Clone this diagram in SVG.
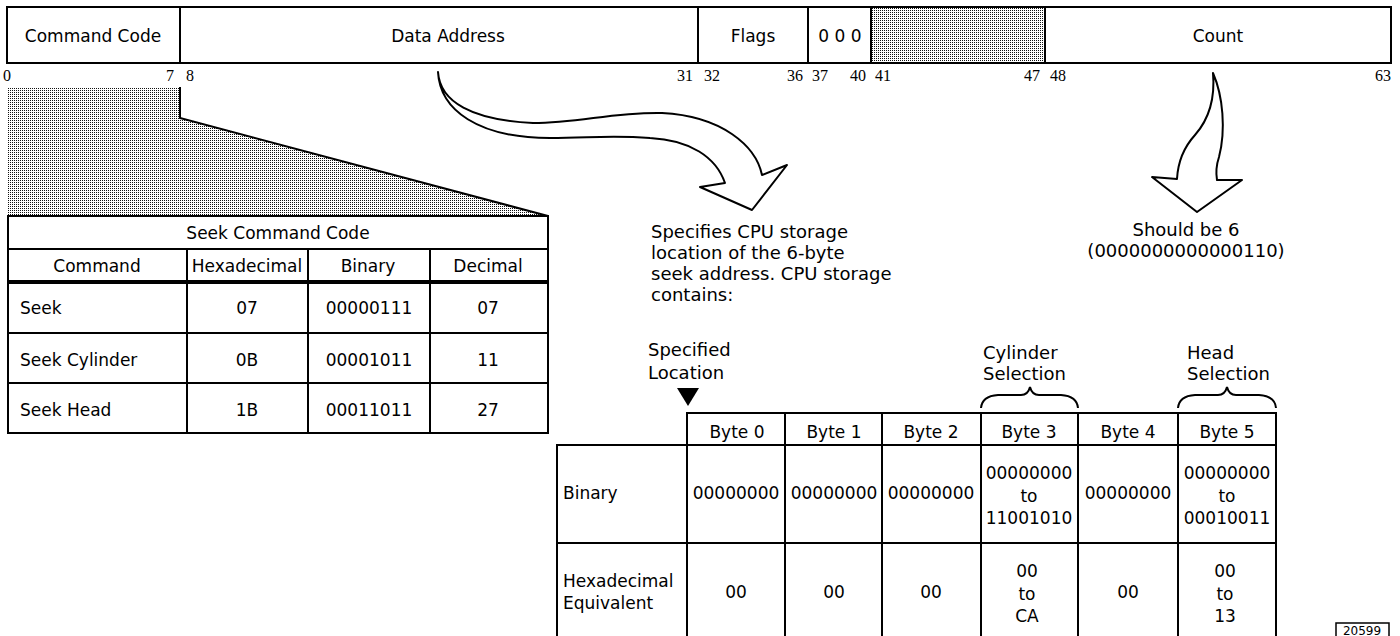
<svg xmlns="http://www.w3.org/2000/svg" width="1400" height="636" viewBox="0 0 1400 636">
<defs>
<pattern id="dots" width="2" height="2" patternUnits="userSpaceOnUse">
<rect width="2" height="2" fill="#fff"/>
<rect x="0" y="0" width="1" height="1" fill="#111"/>
</pattern>
</defs>
<style>
text{font-family:"DejaVu Sans","Liberation Sans",sans-serif;font-size:17px;fill:#000}
.c{text-anchor:middle}
.r{text-anchor:end}
.note{font-size:18px}
.bit{font-family:"Liberation Serif","DejaVu Serif",serif;font-size:16px}
.box{fill:#fff;stroke:#000;stroke-width:2}
.ln{stroke:#000;stroke-width:2;fill:none}
.thick{stroke:#000;stroke-width:4;fill:none}
.arrow{fill:#fff;stroke:#000;stroke-width:2;stroke-linejoin:round}
.small{font-size:12px}
</style>
<rect width="1400" height="636" fill="#fff"/>

<!-- top word format -->
<g id="field-command-code">
<rect class="box" x="7" y="7" width="173" height="56"/>
<text class="c" x="93" y="42">Command Code</text>
</g>
<g id="field-data-address">
<rect class="box" x="180" y="7" width="518" height="56"/>
<text class="c" x="448" y="42">Data Address</text>
</g>
<g id="field-flags">
<rect class="box" x="698" y="7" width="110" height="56"/>
<text class="c" x="753" y="42">Flags</text>
</g>
<g id="field-zero">
<rect class="box" x="808" y="7" width="63" height="56"/>
<text class="c" x="840" y="42">0 0 0</text>
</g>
<g id="field-unused">
<rect x="871" y="7" width="174" height="56" fill="url(#dots)" stroke="#000" stroke-width="2"/>
</g>
<g id="field-count">
<rect class="box" x="1045" y="7" width="346" height="56"/>
<text class="c" x="1218" y="42">Count</text>
</g>
<g id="bit-labels">
<text class="bit" x="3" y="81">0</text>
<text class="bit r" x="174" y="81">7</text>
<text class="bit" x="186" y="81">8</text>
<text class="bit r" x="693" y="81">31</text>
<text class="bit" x="704" y="81">32</text>
<text class="bit r" x="803" y="81">36</text>
<text class="bit" x="812" y="81">37</text>
<text class="bit r" x="866" y="81">40</text>
<text class="bit" x="875" y="81">41</text>
<text class="bit r" x="1040" y="81">47</text>
<text class="bit" x="1050" y="81">48</text>
<text class="bit r" x="1391" y="81">63</text>
</g>

<!-- shaded expansion -->
<g id="expansion">
<polygon points="8,87 180,87 180,118 548,216 8,216" fill="url(#dots)"/>
<path class="ln" d="M180,87 V118 L548,216" stroke-width="1.5"/>
</g>

<!-- seek command code table -->
<g id="seek-table">
<rect class="box" x="8" y="216" width="540" height="217"/>
<line class="ln" x1="8" y1="249" x2="548" y2="249"/>
<line class="thick" x1="8" y1="282" x2="548" y2="282"/>
<line class="ln" x1="8" y1="333" x2="548" y2="333"/>
<line class="ln" x1="8" y1="383" x2="548" y2="383"/>
<line class="ln" x1="187" y1="249" x2="187" y2="433"/>
<line class="ln" x1="308" y1="249" x2="308" y2="433"/>
<line class="ln" x1="430" y1="249" x2="430" y2="433"/>
<text class="c" x="278" y="239">Seek Command Code</text>
<text class="c" x="97" y="272">Command</text>
<text class="c" x="247" y="272">Hexadecimal</text>
<text class="c" x="368" y="272">Binary</text>
<text class="c" x="488" y="272">Decimal</text>
<text x="20" y="314">Seek</text>
<text class="c" x="247" y="314">07</text>
<text class="c" x="369" y="314">00000111</text>
<text class="c" x="488" y="314">07</text>
<text x="20" y="366">Seek Cylinder</text>
<text class="c" x="247" y="366">0B</text>
<text class="c" x="369" y="366">00001011</text>
<text class="c" x="488" y="366">11</text>
<text x="20" y="416">Seek Head</text>
<text class="c" x="247" y="416">1B</text>
<text class="c" x="369" y="416">00011011</text>
<text class="c" x="488" y="416">27</text>
</g>

<!-- notes -->
<g id="note-data-address">
<text class="note" x="651" y="238">Specifies CPU storage</text>
<text class="note" x="651" y="259">location of the 6-byte</text>
<text class="note" x="651" y="280">seek address. CPU storage</text>
<text class="note" x="651" y="301">contains:</text>
</g>
<g id="note-count">
<text class="note c" x="1186" y="236">Should be 6</text>
<text class="note c" x="1186" y="257">(0000000000000110)</text>
</g>

<!-- connectors -->
<g id="connectors">
<path class="arrow" d="M438,72 C440,102 472,120 533,123 C580,123 612,112 662,113 C722,116 756,146 762,175 L787,165 L752,210 L700,187 L725,183 C716,157 690,140 650,138 C610,135 590,138 550,138 C478,138 440,110 438,72 Z"/>
<path class="arrow" d="M1213,73 C1223,96 1226,130 1219,157 C1216,166 1216,174 1217,180 L1242,180 L1197,212 L1152,177 L1177,179 C1178,160 1185,146 1195,135 C1210,118 1215,96 1213,73 Z"/>
</g>

<!-- byte table -->
<g id="byte-labels">
<text class="note" x="648" y="356">Specified</text>
<text class="note" x="648" y="379">Location</text>
<polygon points="677,388 699,388 688,406" fill="#000"/>
<text class="note" x="983" y="359">Cylinder</text>
<text class="note" x="983" y="380">Selection</text>
<path class="ln" d="M981,408 Q982,396 998,395 L1021,395 Q1028,395 1030,387 Q1032,395 1039,395 L1061,395 Q1077,396 1078,408"/>
<text class="note" x="1187" y="359">Head</text>
<text class="note" x="1187" y="380">Selection</text>
<path class="ln" d="M1178,408 Q1179,396 1195,395 L1218,395 Q1225,395 1227,387 Q1229,395 1236,395 L1259,395 Q1275,396 1276,408"/>
</g>
<g id="byte-table">
<rect class="box" x="687" y="413" width="589" height="240"/>
<rect class="box" x="557" y="445" width="719" height="210"/>
<line class="ln" x1="687" y1="445" x2="687" y2="640"/>
<line class="ln" x1="557" y1="543" x2="1276" y2="543"/>
<line class="ln" x1="785" y1="413" x2="785" y2="640"/>
<line class="ln" x1="882" y1="413" x2="882" y2="640"/>
<line class="ln" x1="981" y1="413" x2="981" y2="640"/>
<line class="ln" x1="1078" y1="413" x2="1078" y2="640"/>
<line class="ln" x1="1178" y1="413" x2="1178" y2="640"/>
<text class="c" x="737" y="438">Byte 0</text>
<text class="c" x="834" y="438">Byte 1</text>
<text class="c" x="931" y="438">Byte 2</text>
<text class="c" x="1029" y="438">Byte 3</text>
<text class="c" x="1128" y="438">Byte 4</text>
<text class="c" x="1227" y="438">Byte 5</text>
<text x="563" y="499">Binary</text>
<text class="c" x="736" y="499">00000000</text>
<text class="c" x="834" y="499">00000000</text>
<text class="c" x="931" y="499">00000000</text>
<text class="c" x="1029" y="479">00000000</text>
<text class="c" x="1029" y="502">to</text>
<text class="c" x="1029" y="524">11001010</text>
<text class="c" x="1128" y="499">00000000</text>
<text class="c" x="1227" y="479">00000000</text>
<text class="c" x="1227" y="502">to</text>
<text class="c" x="1227" y="524">00010011</text>
<text x="563" y="587">Hexadecimal</text>
<text x="563" y="609">Equivalent</text>
<text class="c" x="736" y="598">00</text>
<text class="c" x="834" y="598">00</text>
<text class="c" x="931" y="598">00</text>
<text class="c" x="1027" y="577">00</text>
<text class="c" x="1027" y="600">to</text>
<text class="c" x="1027" y="622">CA</text>
<text class="c" x="1128" y="598">00</text>
<text class="c" x="1225" y="577">00</text>
<text class="c" x="1225" y="600">to</text>
<text class="c" x="1225" y="622">13</text>
</g>
<g id="figure-number">
<rect x="1336" y="623" width="53" height="20" fill="#fff" stroke="#000" stroke-width="1.5"/>
<text class="c small" x="1362" y="635">20599</text>
</g>
</svg>
